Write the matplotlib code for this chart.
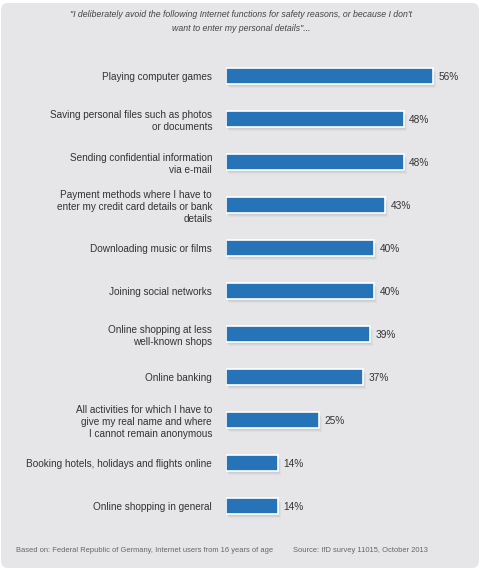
import matplotlib.pyplot as plt
from matplotlib.patches import FancyBboxPatch
import matplotlib.transforms as mtransforms

plt.rcParams['font.family'] = ['Liberation Sans', 'DejaVu Sans']

# Data
labels = [
    'Playing computer games',
    'Saving personal files such as photos\nor documents',
    'Sending confidential information\nvia e-mail',
    'Payment methods where I have to\nenter my credit card details or bank\ndetails',
    'Downloading music or films',
    'Joining social networks',
    'Online shopping at less\nwell-known shops',
    'Online banking',
    'All activities for which I have to\ngive my real name and where\nI cannot remain anonymous',
    'Booking hotels, holidays and flights online',
    'Online shopping in general',
]
values = [56, 48, 48, 43, 40, 40, 39, 37, 25, 14, 14]

title = ('"I deliberately avoid the following Internet functions for safety reasons, or because I don\'t\n'
         'want to enter my personal details"...')
note_left = 'Based on: Federal Republic of Germany, Internet users from 16 years of age'
note_right = 'Source: IfD survey 11015, October 2013'

W, H = 483, 569
fig = plt.figure(figsize=(W / 100, H / 100), dpi=100, facecolor='white')

# Rounded grey background panel
bg = FancyBboxPatch((1 / W, 1 / H), 478 / W, 565 / H,
                    boxstyle='round,pad=0,rounding_size=0.014',
                    transform=fig.transFigure, facecolor='#e6e6e8',
                    edgecolor='none', zorder=-5)
fig.patches.append(bg)

# Axes: 1% = 3.7 px, rows every 43 px
ax_left, ax_w = 226, 254
ax_top, ax_h = 54.5, 473
ax = fig.add_axes([ax_left / W, 1 - (ax_top + ax_h) / H, ax_w / W, ax_h / H])
ax.set_zorder(2)
ax.set_facecolor('none')
ax.set_xlim(0, ax_w / 3.7)
ax.set_ylim(len(values) - 0.5, -0.5)

y = list(range(len(values)))
bar_h = 0.37

# Soft shadow
for dx, dy, a in [(3, -4, 0.10), (2, -3, 0.12), (1, -2, 0.14)]:
    off = mtransforms.offset_copy(ax.transData, fig=fig, x=dx, y=dy, units='dots')
    ax.barh(y, values, height=bar_h, left=0, color='#9a9aa0', alpha=a,
            edgecolor='none', transform=off, zorder=1)

ax.barh(y, values, height=bar_h, color='#2773b8', edgecolor='white',
        linewidth=1.2, zorder=3)

for yi, v in zip(y, values):
    ax.annotate(f'{v}%', (v, yi), xytext=(4, -1), textcoords='offset points',
                ha='left', va='center', fontsize=7.3, color='#333333')

ax.set_yticks(y)
ax.set_yticklabels(labels, fontsize=7.2, color='#333333', linespacing=1.25,
                   multialignment='right')
ax.tick_params(axis='y', length=0, pad=10)
ax.set_xticks([])
for s in ax.spines.values():
    s.set_visible(False)

fig.text(241 / W, 1 - 21.5 / H, title, ha='center', va='center', fontsize=6.3,
         style='italic', color='#444444', linespacing=1.6)
fig.text(16 / W, 1 - 551 / H, note_left, ha='left', va='center',
         fontsize=5.4, color='#666666')
fig.text(293 / W, 1 - 551 / H, note_right, ha='left', va='center',
         fontsize=5.4, color='#666666')

fig.savefig('out.png', dpi=100, facecolor='white')
